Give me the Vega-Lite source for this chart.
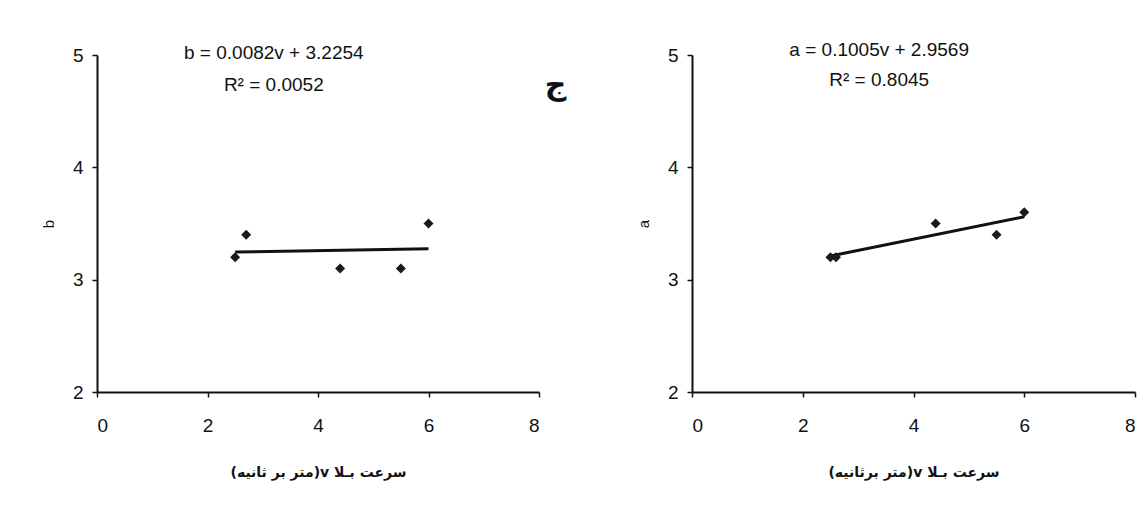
{
  "$schema": "https://vega.github.io/schema/vega-lite/v6.json",
  "background": "white",
  "padding": {"left": 41, "top": 40, "right": 5, "bottom": 5},
  "datasets": {
    "left": [
      {"v": 2.5, "value": 3.2},
      {"v": 2.7, "value": 3.4},
      {"v": 4.4, "value": 3.1},
      {"v": 5.5, "value": 3.1},
      {"v": 6.0, "value": 3.5}
    ],
    "right": [
      {"v": 2.5, "value": 3.2},
      {"v": 2.6, "value": 3.2},
      {"v": 4.4, "value": 3.5},
      {"v": 5.5, "value": 3.4},
      {"v": 6.0, "value": 3.6}
    ]
  },
  "config": {
    "view": {"stroke": null},
    "axis": {
      "grid": false,
      "domainColor": "#111",
      "domainWidth": 2,
      "tickColor": "#111",
      "tickWidth": 1.5,
      "tickSize": 5,
      "labelFont": "Liberation Sans",
      "labelFontSize": 19,
      "labelColor": "#111",
      "format": "d",
      "titleFont": "Liberation Sans",
      "titleColor": "#111",
      "titleFontWeight": "normal",
      "titleFontSize": 15
    },
    "text": {"font": "Liberation Sans", "fontSize": 19, "color": "#111"}
  },
  "spacing": 69,
  "hconcat": [
    {
      "width": 442,
      "height": 337,
      "layer": [
        {
          "data": {"name": "left"},
          "transform": [{"regression": "value", "on": "v"}],
          "mark": {"type": "line", "color": "#111", "strokeWidth": 3},
          "encoding": {
            "x": {"field": "v", "type": "quantitative", "scale": {"domain": [0, 8]},
              "axis": {"values": [0, 2, 4, 6, 8], "title": "\u202Bسرعت بـلا v(متر بر ثانیه)\u202C", "titleFont": "DejaVu Sans", "titleFontSize": 14, "titleFontWeight": "bold", "titlePadding": 30, "labelPadding": 19}},
            "y": {"field": "value", "type": "quantitative", "scale": {"domain": [2, 5]},
              "axis": {"values": [2, 3, 4, 5], "title": "b", "titlePadding": 16, "labelPadding": 9}}
          }
        },
        {
          "data": {"name": "left"},
          "mark": {"type": "point", "shape": "diamond", "filled": true, "color": "#1a1a1a", "size": 100, "opacity": 1},
          "encoding": {
            "x": {"field": "v", "type": "quantitative"},
            "y": {"field": "value", "type": "quantitative"}
          }
        },
        {
          "data": {"values": [{}]},
          "mark": {"type": "text", "text": "b = 0.0082v + 3.2254"},
          "encoding": {"x": {"datum": 3.2, "type": "quantitative"}, "y": {"datum": 5.02, "type": "quantitative"}}
        },
        {
          "data": {"values": [{}]},
          "mark": {"type": "text", "text": "R² = 0.0052"},
          "encoding": {"x": {"datum": 3.2, "type": "quantitative"}, "y": {"datum": 4.73, "type": "quantitative"}}
        },
        {
          "data": {"values": [{}]},
          "mark": {"type": "text", "text": "ج", "font": "DejaVu Sans", "fontSize": 30, "fontWeight": "bold"},
          "encoding": {"x": {"datum": 8.3, "type": "quantitative"}, "y": {"datum": 4.72, "type": "quantitative"}}
        }
      ]
    },
    {
      "width": 443,
      "height": 337,
      "layer": [
        {
          "data": {"name": "right"},
          "transform": [{"regression": "value", "on": "v"}],
          "mark": {"type": "line", "color": "#111", "strokeWidth": 3},
          "encoding": {
            "x": {"field": "v", "type": "quantitative", "scale": {"domain": [0, 8]},
              "axis": {"values": [0, 2, 4, 6, 8], "title": "\u202Bسرعت بـلا v(متر برثانیه)\u202C", "titleFont": "DejaVu Sans", "titleFontSize": 14, "titleFontWeight": "bold", "titlePadding": 30, "labelPadding": 19}},
            "y": {"field": "value", "type": "quantitative", "scale": {"domain": [2, 5]},
              "axis": {"values": [2, 3, 4, 5], "title": "a", "titlePadding": 16, "labelPadding": 9}}
          }
        },
        {
          "data": {"name": "right"},
          "mark": {"type": "point", "shape": "diamond", "filled": true, "color": "#1a1a1a", "size": 100, "opacity": 1},
          "encoding": {
            "x": {"field": "v", "type": "quantitative"},
            "y": {"field": "value", "type": "quantitative"}
          }
        },
        {
          "data": {"values": [{}]},
          "mark": {"type": "text", "text": "a = 0.1005v + 2.9569"},
          "encoding": {"x": {"datum": 3.38, "type": "quantitative"}, "y": {"datum": 5.045, "type": "quantitative"}}
        },
        {
          "data": {"values": [{}]},
          "mark": {"type": "text", "text": "R² = 0.8045"},
          "encoding": {"x": {"datum": 3.38, "type": "quantitative"}, "y": {"datum": 4.78, "type": "quantitative"}}
        }
      ]
    }
  ]
}
